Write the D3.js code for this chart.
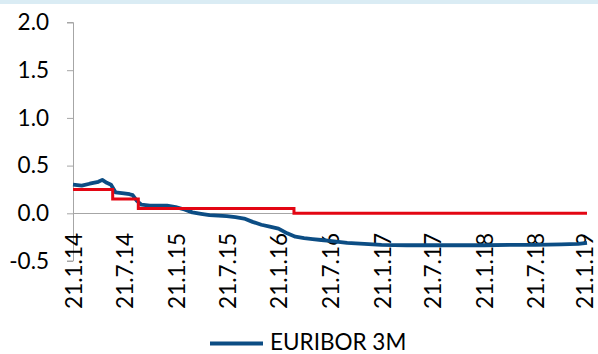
<!DOCTYPE html>
<html>
<head>
<meta charset="utf-8">
<script src="https://cdn.jsdelivr.net/npm/d3@7"></script>
<style>
  body { margin: 0; background: #fff; }
  svg { display: block; font-family: Lato, "Open Sans", sans-serif; }
</style>
</head>
<body>
<div id="chart"></div>
<script>
// EURIBOR 3M (roughly monthly, on the 21st)
var euriborDates = [
  "2014-01-21","2014-02-21","2014-03-21","2014-04-21","2014-05-05","2014-05-21","2014-06-05","2014-06-21",
  "2014-07-21","2014-08-10","2014-08-21","2014-09-05","2014-09-21","2014-10-21","2014-11-21","2014-12-21",
  "2015-01-21","2015-02-21","2015-03-21","2015-04-21","2015-05-21","2015-06-21","2015-07-21","2015-08-21",
  "2015-09-21","2015-10-21","2015-11-21","2015-12-21","2016-01-21","2016-02-21","2016-03-21","2016-04-21",
  "2016-05-21","2016-06-21","2016-07-21","2016-08-21","2016-09-21","2016-10-21","2016-11-21","2016-12-21",
  "2017-01-21","2017-04-21","2017-07-21","2017-10-21","2018-01-21","2018-04-21","2018-07-21","2018-10-21",
  "2018-12-21","2019-01-21"
];
var euriborValues = [
  0.30, 0.29, 0.31, 0.33, 0.35, 0.32, 0.30, 0.22,
  0.21, 0.20, 0.19, 0.13, 0.09, 0.08, 0.08, 0.08,
  0.065, 0.04, 0.01, -0.005, -0.02, -0.025, -0.03, -0.04,
  -0.055, -0.09, -0.12, -0.14, -0.16, -0.21, -0.245, -0.26,
  -0.27, -0.28, -0.29, -0.30, -0.31, -0.315, -0.32, -0.325,
  -0.33, -0.335, -0.335, -0.335, -0.335, -0.33, -0.33, -0.325,
  -0.32, -0.31
];

// ECB main refinancing rate (step line, not in legend)
var ecbDates = ["2014-01-21", "2014-06-11", "2014-09-10", "2016-03-16", "2019-01-21"];
var ecbValues = [0.25, 0.15, 0.05, 0.00, 0.00];

var yTicks = [-0.5, 0, 0.5, 1.0, 1.5, 2.0];
var xTickDates = ["2014-01-21","2014-07-21","2015-01-21","2015-07-21","2016-01-21","2016-07-21",
                  "2017-01-21","2017-07-21","2018-01-21","2018-07-21","2019-01-21"];
var legendLabel = "EURIBOR 3M";

var width = 598, height = 354;
var fontSize = 22.5;
var parse = d3.timeParse("%Y-%m-%d");
var fmt = d3.timeFormat("%-d.%-m.%y");

var svg = d3.select("#chart").append("svg")
  .attr("width", width).attr("height", height);

svg.append("rect").attr("x", 0).attr("y", 0).attr("width", width).attr("height", 4)
  .attr("fill", "#daecf4");

var x = d3.scaleTime()
  .domain([parse(xTickDates[0]), parse(xTickDates[xTickDates.length - 1])])
  .range([73, 587]);
var y = d3.scaleLinear().domain([-0.5, 2.0]).range([261, 22.5]);

// y axis
var yAxis = d3.axisLeft(y).tickValues(yTicks).tickSize(6).tickPadding(18);
var gy = svg.append("g").attr("transform", "translate(73,0)").call(yAxis);
gy.select(".domain").attr("stroke", "#a6a6a6").attr("d", "M-6," + y(2.0) + "H0.5V" + y(-0.5) + "H-6");
gy.selectAll(".tick line").attr("stroke", "#a6a6a6");
gy.selectAll(".tick text").attr("font-size", fontSize).attr("fill", "#000")
  .attr("font-family", "Lato, sans-serif")
  .text(function (d) { return d3.format(".1f")(d).replace("\u2212", "-"); });

// zero line
svg.append("line")
  .attr("x1", x.range()[0]).attr("x2", x.range()[1])
  .attr("y1", Math.round(y(0)) + 0.5).attr("y2", Math.round(y(0)) + 0.5)
  .attr("stroke", "#a6a6a6").attr("stroke-width", 1);

// x labels, rotated (last one kept inside the edge)
var gx = svg.append("g");
gx.selectAll("text").data(xTickDates).enter().append("text")
  .attr("transform", function (d) {
    var bx = Math.min(x(parse(d)) + 9, width - 5);
    return "translate(" + bx + ",233) rotate(-90)";
  })
  .attr("text-anchor", "end")
  .attr("font-size", fontSize)
  .attr("fill", "#000")
  .text(function (d) { return fmt(parse(d)); });

var line = d3.line()
  .x(function (d) { return x(d.date); })
  .y(function (d) { return y(d.value); });

var ecb = ecbDates.map(function (d, i) { return { date: parse(d), value: ecbValues[i] }; });
var eur = euriborDates.map(function (d, i) { return { date: parse(d), value: euriborValues[i] }; });

svg.append("path").datum(eur)
  .attr("fill", "none").attr("stroke", "#0c4d84").attr("stroke-width", 3.8)
  .attr("stroke-linejoin", "round")
  .attr("d", line);

svg.append("path").datum(ecb)
  .attr("fill", "none").attr("stroke", "#e30613").attr("stroke-width", 3)
  .attr("d", line.curve(d3.curveStepAfter));

// legend
svg.append("line").attr("x1", 210).attr("x2", 263).attr("y1", 343.5).attr("y2", 343.5)
  .attr("stroke", "#0c4d84").attr("stroke-width", 3.8);
svg.append("text").attr("x", 270).attr("y", 350)
  .attr("font-size", fontSize).attr("fill", "#000").text(legendLabel);
</script>
</body>
</html>
